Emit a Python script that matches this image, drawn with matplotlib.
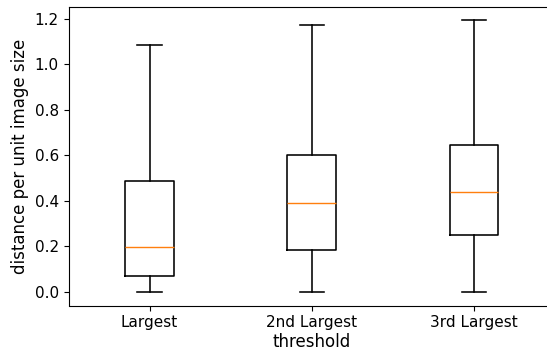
import matplotlib
matplotlib.use("Agg")
import matplotlib.pyplot as plt

categories = ["Largest", "2nd Largest", "3rd Largest"]
whislo = [0.0, 0.0, 0.0]
q1 = [0.070, 0.183, 0.252]
med = [0.198, 0.393, 0.438]
q3 = [0.488, 0.600, 0.645]
whishi = [1.086, 1.174, 1.194]

stats = [dict(label=c, whislo=a, q1=b, med=m, q3=d, whishi=e, fliers=[])
         for c, a, b, m, d, e in zip(categories, whislo, q1, med, q3, whishi)]

fig = plt.figure(figsize=(5.47, 3.51), dpi=100)
ax = fig.add_axes([68.5/547, 1-305.5/351, (555-68.5)/547, (305.5-6.7)/351])
lw = 1.15
ax.bxp(stats, showfliers=False, widths=0.3,
       boxprops=dict(linewidth=lw), whiskerprops=dict(linewidth=lw),
       capprops=dict(linewidth=lw), medianprops=dict(linewidth=1.0))
ax.set_xlabel("threshold", fontsize=12, labelpad=2)
ax.set_ylabel("distance per unit image size", fontsize=12)
ax.tick_params(labelsize=11)
fig.savefig("out.png", dpi=100)
